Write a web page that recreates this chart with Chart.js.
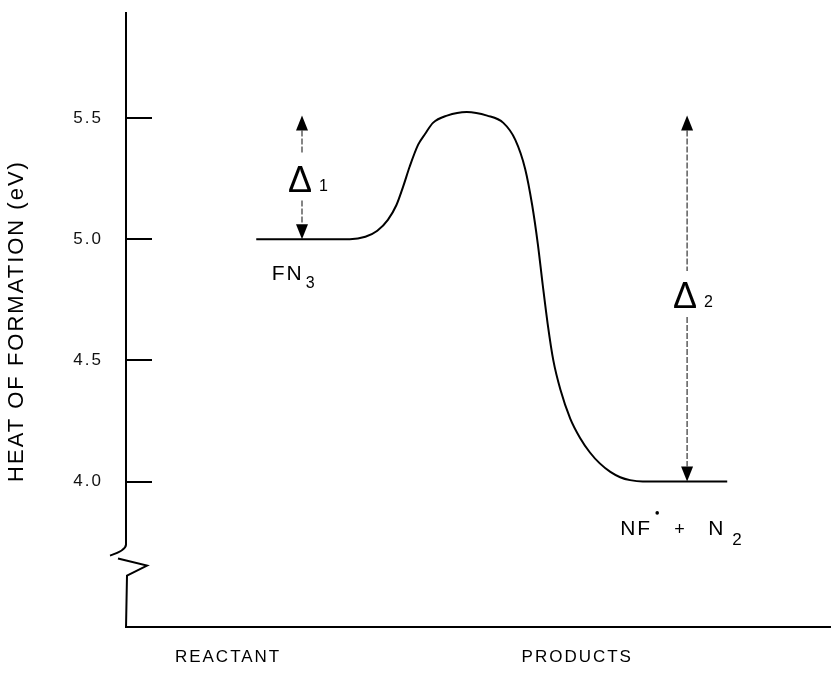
<!DOCTYPE html>
<html>
<head>
<meta charset="utf-8">
<script src="https://cdn.jsdelivr.net/npm/chart.js@4.4.1/dist/chart.umd.min.js"></script>
<style>
  html, body { margin: 0; padding: 0; background: #fff; }
  canvas { display: block; }
</style>
</head>
<body>
<canvas id="energy" width="834" height="681"></canvas>
<script>
// reaction coordinate (arbitrary units, 0..100) and heat of formation (eV)
const coord  = [18.5, 24.7, 31.8, 34.0, 35.7, 37.2, 38.4, 39.4, 40.3, 41.5, 42.5, 43.6, 45.6, 48.4, 51.3, 53.6,
                55.3, 56.7, 57.7, 58.5, 59.2, 59.9, 60.7, 61.7, 63.1, 64.5, 65.9, 67.3, 68.8, 70.2, 71.6, 73.4, 85.4];
const energy = [5.0, 5.0, 5.0, 5.01, 5.035, 5.08, 5.14, 5.22, 5.30, 5.39, 5.435, 5.48, 5.51, 5.525, 5.51, 5.48,
                5.41, 5.29, 5.14, 4.98, 4.81, 4.65, 4.50, 4.38, 4.26, 4.18, 4.12, 4.075, 4.04, 4.018, 4.006, 4.0, 4.0];

const yTicks = [4.0, 4.5, 5.0, 5.5];
const xTicks = [14.5, 64.1];
const xLabels = ['REACTANT', 'PRODUCTS'];
const yBreak = 3.74;

// the two energy gaps
const deltaSub  = ['1', '2'];
const deltaX    = [25.0, 79.7];
const deltaLow  = [5.0, 4.0];
const deltaHigh = [5.51, 5.51];
const deltaMid  = [5.25, 4.77];

// species names: [start x, baseline y]
const fn3At  = [20.7, 4.83];
const nfN2At = [70.2, 3.78];

const FONT = '"Liberation Sans", Arial, sans-serif';

const spacing = {
  id: 'spacing',
  beforeDraw(chart) { chart.ctx.letterSpacing = '2px'; },
  afterDraw(chart) { chart.ctx.letterSpacing = '0px'; }
};

function head(ctx, px, tip, dir) {
  ctx.beginPath();
  ctx.moveTo(px, tip);
  ctx.lineTo(px - 6, tip - dir * 15);
  ctx.lineTo(px + 6, tip - dir * 15);
  ctx.closePath();
  ctx.fill();
}

function seg(ctx, x1, y1, x2, y2) {
  ctx.beginPath();
  ctx.moveTo(x1, y1);
  ctx.lineTo(x2, y2);
  ctx.stroke();
}

const decor = {
  id: 'decor',
  afterDatasetsDraw(chart) {
    const { ctx, scales: { x, y } } = chart;
    ctx.save();
    ctx.strokeStyle = '#000';
    ctx.fillStyle = '#000';
    ctx.letterSpacing = '0px';

    // y axis line with break
    const ax = x.left;
    const b = y.getPixelForValue(yBreak);
    ctx.lineWidth = 2;
    ctx.beginPath();
    ctx.moveTo(ax, y.top - 3);
    ctx.lineTo(ax, b);
    ctx.quadraticCurveTo(ax, b + 6, ax - 16, b + 11);
    ctx.stroke();
    ctx.beginPath();
    ctx.moveTo(ax - 8, b + 14);
    ctx.lineTo(ax + 21, b + 21);
    ctx.lineTo(ax + 1, b + 31);
    ctx.lineTo(ax, y.bottom + 1);
    ctx.stroke();

    // inward tick marks
    yTicks.forEach(v => {
      const py = Math.round(y.getPixelForValue(v));
      seg(ctx, ax, py, ax + 26, py);
    });

    // delta arrows
    deltaX.forEach((v, i) => {
      const px = x.getPixelForValue(v);
      const top = y.getPixelForValue(deltaHigh[i]);
      const bot = y.getPixelForValue(deltaLow[i]);
      const mid = y.getPixelForValue(deltaMid[i]);
      ctx.strokeStyle = '#222';
      ctx.lineWidth = 1.1;
      ctx.setLineDash([6, 2]);
      seg(ctx, px, top + 15, px, mid - 24);
      seg(ctx, px, mid + 22, px, bot - 15);
      ctx.setLineDash([]);
      head(ctx, px, top, -1);
      head(ctx, px, bot, 1);
      ctx.textBaseline = 'alphabetic';
      ctx.textAlign = 'center';
      ctx.font = '36px ' + FONT;
      ctx.fillText('\u0394', px - 2, mid + 13);
      ctx.textAlign = 'left';
      ctx.font = '16px ' + FONT;
      ctx.fillText(deltaSub[i], px + 17, mid + 12);
    });

    // species labels
    ctx.textAlign = 'left';
    ctx.textBaseline = 'alphabetic';
    let x0 = x.getPixelForValue(fn3At[0]);
    let base = y.getPixelForValue(fn3At[1]);
    ctx.letterSpacing = '2px';
    ctx.font = '21px ' + FONT;
    ctx.fillText('FN', x0, base);
    const wFN = ctx.measureText('FN').width;
    ctx.font = '16px ' + FONT;
    ctx.fillText('3', x0 + wFN + 2, base + 8);

    x0 = x.getPixelForValue(nfN2At[0]);
    base = y.getPixelForValue(nfN2At[1]);
    ctx.font = '21px ' + FONT;
    ctx.fillText('NF', x0, base);
    ctx.beginPath();
    ctx.arc(x0 + 37, base - 22, 1.8, 0, Math.PI * 2);
    ctx.fill();
    ctx.font = '18px ' + FONT;
    ctx.fillText('+', x0 + 54, base);
    ctx.font = '21px ' + FONT;
    ctx.fillText('N', x0 + 88, base);
    ctx.font = '17px ' + FONT;
    ctx.fillText('2', x0 + 112, base + 10);
    ctx.restore();
  }
};

new Chart(document.getElementById('energy'), {
  type: 'line',
  data: {
    datasets: [{
      data: coord.map((c, i) => ({ x: c, y: energy[i] })),
      borderColor: '#000',
      borderWidth: 2,
      pointRadius: 0,
      fill: false,
      cubicInterpolationMode: 'monotone'
    }]
  },
  options: {
    responsive: false,
    animation: false,
    devicePixelRatio: 1,
    layout: { padding: { top: 15, right: 4, left: 0, bottom: 0 } },
    plugins: {
      legend: { display: false },
      title: { display: false },
      tooltip: { enabled: false }
    },
    scales: {
      x: {
        type: 'linear',
        min: 0,
        max: 100,
        grid: { display: false, drawTicks: true, tickLength: 20 },
        border: { display: true, color: '#000', width: 2 },
        afterBuildTicks: scale => { scale.ticks = xTicks.map(v => ({ value: v })); },
        afterFit: scale => { scale.height = 54; },
        ticks: {
          autoSkip: false,
          maxRotation: 0,
          padding: 0,
          color: '#000',
          font: { family: FONT, size: 17 },
          callback: (v, i) => xLabels[i]
        }
      },
      y: {
        min: 3.4,
        max: 5.925,
        grid: { display: false, drawTicks: true, tickLength: 23 },
        border: { display: false },
        afterBuildTicks: scale => { scale.ticks = yTicks.map(v => ({ value: v })); },
        afterFit: scale => { scale.width = 126; },
        ticks: {
          padding: 0,
          color: '#111',
          font: { family: FONT, size: 17 },
          callback: v => v.toFixed(1)
        },
        title: {
          display: true,
          text: 'HEAT OF FORMATION (eV)',
          color: '#000',
          font: { family: FONT, size: 22 },
          padding: { top: 4, bottom: 0 }
        }
      }
    }
  },
  plugins: [spacing, decor]
});
</script>
</body>
</html>
